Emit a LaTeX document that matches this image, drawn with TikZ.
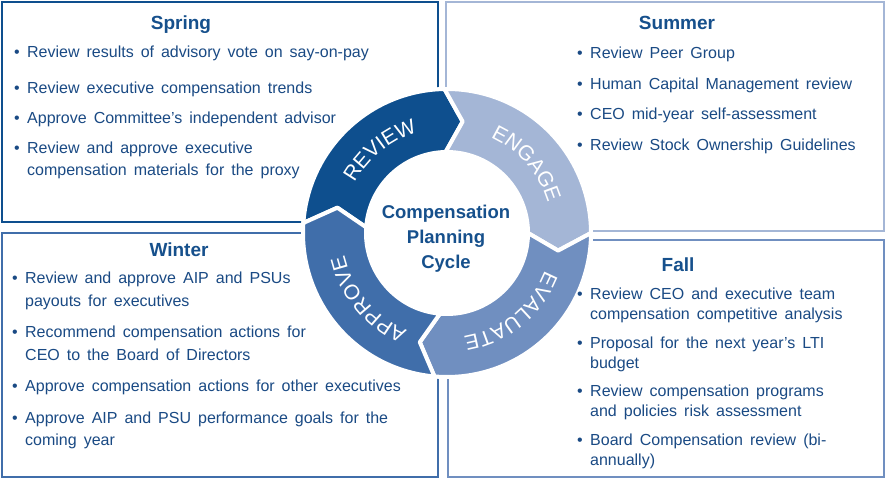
\documentclass[tikz,border=0pt]{standalone}
\usepackage{fontspec}
\setmainfont{Liberation Sans}
\usetikzlibrary{positioning}
\usetikzlibrary{decorations.text}
\definecolor{revblue}{RGB}{14,79,142}
\definecolor{engblue}{RGB}{164,182,214}
\definecolor{evablue}{RGB}{112,143,192}
\definecolor{appblue}{RGB}{64,110,170}
\definecolor{txtblue}{RGB}{26,74,132}
\definecolor{ttlblue}{RGB}{22,80,140}
\newcommand{\labfont}{\fontsize{21}{21}\selectfont}
\newcommand{\itm}[1]{\hangindent=13pt\hangafter=1\noindent\makebox[13pt][l]{\textbullet}#1\par}
\tikzset{box/.style={draw, line width=1.6pt, inner sep=0pt, outer sep=0pt, anchor=north west}}
\tikzset{ttl/.style={anchor=base, inner sep=0pt, text=ttlblue, font=\fontsize{19}{19}\selectfont\bfseries}}
\tikzset{lst/.style 2 args={anchor=north west, inner sep=0pt, text=txtblue, align=left, text width=400pt,
  font=\fontsize{16}{#1}\selectfont,
  execute at begin node={\setlength{\parskip}{#2}\spaceskip=7pt plus 2pt minus 1pt}}}
\tikzset{seg/.style={draw=white, line width=4pt, line join=round}}
\tikzset{lab/.style={decorate, decoration={text along path, text align=center, text color=white}}}

\begin{document}
\begin{tikzpicture}[x=1pt,y=1pt]
\fill[white] (0,0) rectangle (891,-486);
\useasboundingbox (0,0) rectangle (891,-486);

% season boxes
\node[box, draw=revblue, minimum width=436pt, minimum height=220pt] (spring) at (2,-2) {};
\node[box, draw=engblue, minimum width=438pt, minimum height=229pt] (summer) at (446,-2) {};
\node[box, draw=appblue, minimum width=436pt, minimum height=244pt] (winter) at (2,-233) {};
\node[box, draw=evablue, minimum width=436pt, minimum height=237pt] (fall) at (448,-240) {};

% cycle ring
\begin{scope}[shift={(447,-233)}]
\fill[white] (0,0) circle (146);
\draw[seg, fill=revblue] (176:144) arc[start angle=176, end angle=91, radius=144]
  -- (82:112.5) -- (91:81) arc[start angle=91, end angle=176, radius=81] -- (167:112.5) -- cycle;
\draw[seg, fill=engblue] (91:144) arc[start angle=91, end angle=0, radius=144]
  -- (-9:112.5) -- (0:81) arc[start angle=0, end angle=91, radius=81] -- (82:112.5) -- cycle;
\draw[seg, fill=evablue] (0:144) arc[start angle=0, end angle=-95, radius=144]
  -- (-104:112.5) -- (-95:81) arc[start angle=-95, end angle=0, radius=81] -- (-9:112.5) -- cycle;
\draw[seg, fill=appblue] (-95:144) arc[start angle=-95, end angle=-184, radius=144]
  -- (-193:112.5) -- (-184:81) arc[start angle=-184, end angle=-95, radius=81] -- (-104:112.5) -- cycle;

\path[lab, decoration={text={|\labfont|REVIEW}}] (173:105) arc[start angle=173, end angle=85, radius=105];
\path[lab, decoration={text={|\labfont|ENGAGE}}] (85:105) arc[start angle=85, end angle=-3, radius=105];
\path[lab, decoration={text={|\labfont|EVALUATE}}] (-7:105) arc[start angle=-7, end angle=-95, radius=105];
\path[lab, decoration={text={|\labfont|APPROVE}}] (-96:105) arc[start angle=-96, end angle=-184, radius=105];
\end{scope}

\node[align=center, text=ttlblue, font=\fontsize{18.5}{25}\selectfont\bfseries] (cycle) at (446,-239)
  {Compensation\\Planning\\Cycle};

% season texts
\node[ttl] (springttl) at (181,-30) {Spring};
\node[ttl] (summerttl) at (677,-30) {Summer};
\node[ttl] (winterttl) at (179,-257) {Winter};
\node[ttl] (fallttl) at (678,-272) {Fall};

\node[lst={22pt}{8pt}] (springlst) [below right=44pt and 12pt of spring.north west] {%
\itm{Review results of advisory vote on say-on-pay}\vspace{6pt}
\itm{Review executive compensation trends}
\itm{Approve Committee’s independent advisor}
\itm{Review and approve executive\newline compensation materials for the proxy}};

\node[lst={22pt}{8.5pt}] (summerlst) [below right=45pt and 131pt of summer.north west] {%
\itm{Review Peer Group}
\itm{Human Capital Management review}
\itm{CEO mid-year self-assessment}
\itm{Review Stock Ownership Guidelines}};

\node[lst={22.5pt}{9pt}] (winterlst) [below right=39pt and 10pt of winter.north west] {%
\itm{Review and approve AIP and PSUs\newline payouts for executives}
\itm{Recommend compensation actions for\newline CEO to the Board of Directors}
\itm{Approve compensation actions for other executives}
\itm{Approve AIP and PSU performance goals for the\newline coming year}};

\node[lst={20pt}{8.5pt}] (falllst) [below right=48pt and 129pt of fall.north west] {%
\itm{Review CEO and executive team\newline compensation competitive analysis}
\itm{Proposal for the next year’s LTI\newline budget}
\itm{Review compensation programs\newline and policies risk assessment}
\itm{Board Compensation review (bi-\newline annually)}};
\end{tikzpicture}
\end{document}
